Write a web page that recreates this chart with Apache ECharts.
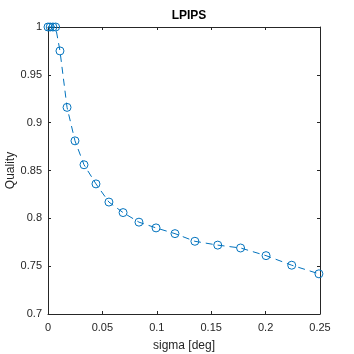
<!DOCTYPE html>
<html lang="en">
  <head>
    <meta charset="UTF-8" />
    <title>LPIPS</title>
    <script src="https://cdn.jsdelivr.net/npm/echarts@6/dist/echarts.min.js"></script>
    <style>
      html, body { margin: 0; padding: 0; background: #fff; }
    </style>
  </head>
  <body>
    <div id="main" style="width: 354px; height: 354px;"></div>
    <script>
      // data
      var sigma = [0, 0.002, 0.0045, 0.007, 0.011, 0.0175, 0.0248, 0.0331, 0.0441, 0.056,
                   0.069, 0.0836, 0.0993, 0.1167, 0.135, 0.156, 0.177, 0.2004, 0.224, 0.249];
      var quality = [1, 1, 1, 1, 0.975, 0.916, 0.881, 0.856, 0.836, 0.817,
                     0.806, 0.796, 0.790, 0.784, 0.776, 0.772, 0.769, 0.761, 0.751, 0.742];

      var axisColor = "#262626";
      var font = "Liberation Sans, Arial, sans-serif";

      var points = [];
      for (var i = 0; i < sigma.length; i++) {
        points.push([sigma[i], quality[i]]);
      }

      var myChart = echarts.init(document.getElementById("main"));

      // plain axis without labels, used for the top/right box edges
      function boxAxis(pos, min, max, interval) {
        return {
          type: "value",
          position: pos,
          min: min,
          max: max,
          interval: interval,
          axisLine: { show: true, onZero: false, lineStyle: { color: axisColor, width: 1 } },
          axisTick: { show: true, inside: true, length: 3, lineStyle: { color: axisColor } },
          axisLabel: { show: false },
          splitLine: { show: false }
        };
      }

      var option = {
        animation: false,
        title: {
          text: "LPIPS",
          left: 184,
          top: 5,
          textAlign: "center",
          textStyle: { fontFamily: font, fontSize: 12, fontWeight: "bold", color: "#000" }
        },
        grid: { left: 48, right: 34, top: 27, bottom: 40, containLabel: false, outerBoundsMode: "none" },
        xAxis: [
          {
            type: "value",
            min: 0,
            max: 0.25,
            interval: 0.05,
            name: "sigma [deg]",
            nameLocation: "middle",
            nameGap: 26,
            nameMoveOverlap: false,
            nameTextStyle: { fontFamily: font, fontSize: 12, color: axisColor },
            axisLine: { show: true, onZero: false, lineStyle: { color: axisColor, width: 1 } },
            axisTick: { show: true, inside: true, length: 3, lineStyle: { color: axisColor } },
            axisLabel: { fontFamily: font, fontSize: 11, color: axisColor, margin: 8 },
            splitLine: { show: false }
          },
          boxAxis("top", 0, 0.25, 0.05)
        ],
        yAxis: [
          {
            type: "value",
            min: 0.7,
            max: 1,
            interval: 0.05,
            name: "Quality",
            nameLocation: "middle",
            nameGap: 31,
            nameMoveOverlap: false,
            nameTextStyle: { fontFamily: font, fontSize: 12, color: axisColor },
            axisLine: { show: true, onZero: false, lineStyle: { color: axisColor, width: 1 } },
            axisTick: { show: true, inside: true, length: 3, lineStyle: { color: axisColor } },
            axisLabel: {
              fontFamily: font, fontSize: 11, color: axisColor, margin: 6,
              formatter: function (v) { return String(Math.round(v * 100) / 100); }
            },
            splitLine: { show: false }
          },
          boxAxis("right", 0.7, 1, 0.05)
        ],
        series: [
          {
            type: "line",
            data: points,
            symbol: "circle",
            symbolSize: 8,
            clip: false,
            lineStyle: { color: "#0072BD", width: 1, type: [7, 5] },
            itemStyle: { color: "rgba(255,255,255,0)", borderColor: "#0072BD", borderWidth: 1 }
          }
        ]
      };

      myChart.setOption(option);
    </script>
  </body>
</html>
